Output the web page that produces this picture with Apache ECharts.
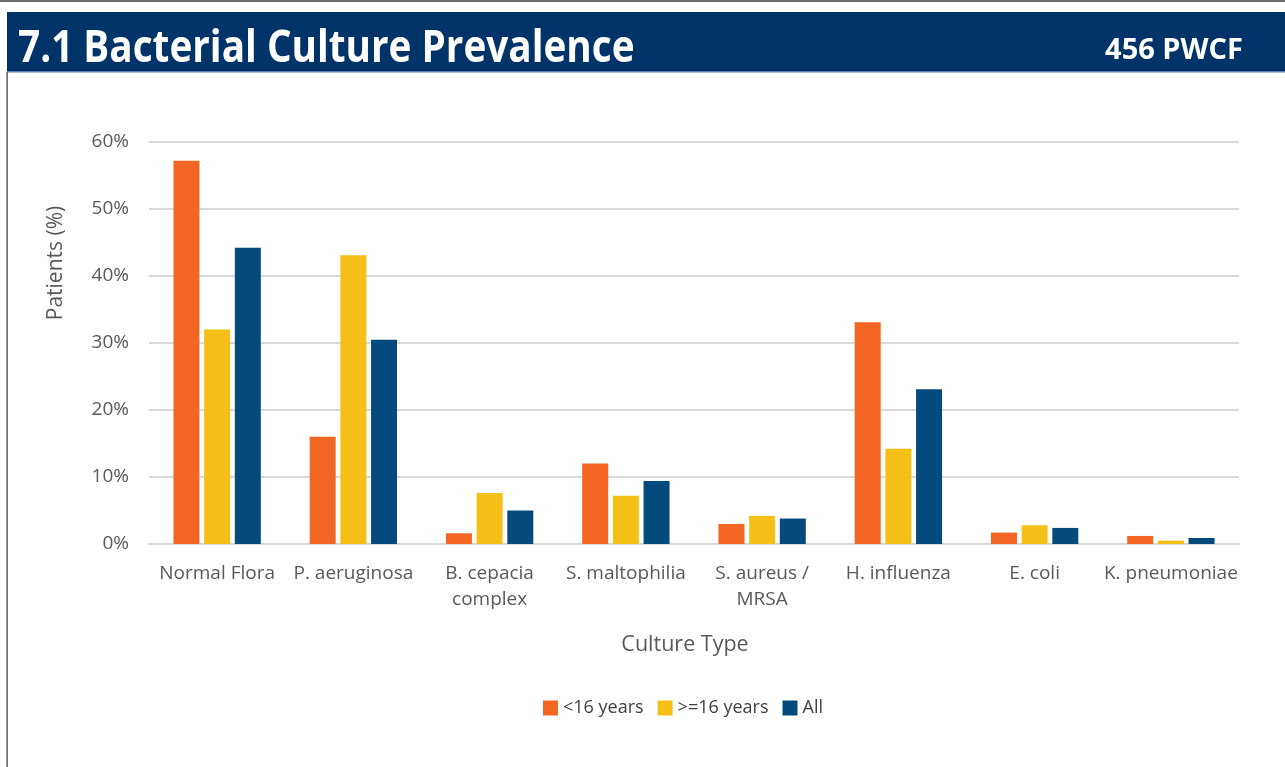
<!DOCTYPE html>
<html>
<head>
<meta charset="utf-8">
<script src="https://cdn.jsdelivr.net/npm/echarts@6/dist/echarts.min.js"></script>
<style>
html,body{margin:0;padding:0;background:#fff;}
#chart{width:1285px;height:767px;}
</style>
</head>
<body>
<div id="chart"></div>
<script>
const categories = ['Normal Flora', 'P. aeruginosa', 'B. cepacia\ncomplex', 'S. maltophilia', 'S. aureus /\nMRSA', 'H. influenza', 'E. coli', 'K. pneumoniae'];
const under16 = [57.2, 16.0, 1.6, 12.0, 3.0, 33.1, 1.7, 1.2];
const over16 = [32.0, 43.1, 7.6, 7.2, 4.2, 14.2, 2.8, 0.5];
const allPatients = [44.2, 30.5, 5.0, 9.4, 3.8, 23.1, 2.4, 0.9];
const seriesNames = ['<16 years', '>=16 years', 'All'];
const yTicks = [0, 10, 20, 30, 40, 50, 60];

const colors = ['#F36523', '#F4C018', '#044A7C'];
const chart = echarts.init(document.getElementById('chart'), null, {renderer: 'canvas'});
const font = '"Open Sans", "Noto Sans", sans-serif';

chart.setOption({
  animation: false,
  color: colors,
  grid: {left: 149, right: 46, top: 142, bottom: 223},
  legend: {
    data: seriesNames,
    top: 694,
    left: 538,
    itemWidth: 15, itemHeight: 15, itemGap: 14,
    icon: 'rect',
    textStyle: {fontFamily: font, fontSize: 18, color: '#404040'}
  },
  graphic: [
    {type: 'rect', shape: {x: 0, y: 0, width: 1285, height: 2}, style: {fill: '#6b6b6b'}},
    {type: 'rect', shape: {x: 7, y: 12, width: 1278, height: 60}, style: {fill: '#003468'}},
    {type: 'rect', shape: {x: 7, y: 71, width: 1278, height: 1.5}, style: {fill: '#5b7fae'}},
    {type: 'rect', shape: {x: 6.5, y: 72, width: 1.2, height: 695}, style: {fill: '#333'}},
    {type: 'text', x: 18, y: 49, scaleX: 0.86,
      style: {text: '7.1 Bacterial Culture Prevalence', fill: '#fff', font: 'bold 45px ' + font, textAlign: 'left', textVerticalAlign: 'middle'}},
    {type: 'text', x: 1243, y: 51,
      style: {text: '456 PWCF', fill: '#fff', font: 'bold 29px ' + font, textAlign: 'right', textVerticalAlign: 'middle'}},
    {type: 'text', x: 56, y: 263, rotation: Math.PI/2,
      style: {text: 'Patients (%)', fill: '#595959', font: '21px ' + font, textAlign: 'center', textVerticalAlign: 'middle'}},
    {type: 'text', x: 685, y: 645,
      style: {text: 'Culture Type', fill: '#595959', font: '21.5px ' + font, textAlign: 'center', textVerticalAlign: 'middle'}}
  ],
  xAxis: {
    type: 'category',
    data: categories,
    axisLine: {show: true, lineStyle: {color: '#D9D9D9', width: 2}},
    axisTick: {show: false},
    axisLabel: {fontFamily: font, fontSize: 19, color: '#595959', margin: 17, lineHeight: 26, interval: 0}
  },
  yAxis: {
    type: 'value',
    min: yTicks[0], max: yTicks[yTicks.length-1], interval: 10,
    axisLine: {show: false},
    axisTick: {show: false},
    axisLabel: {fontFamily: font, fontSize: 19, color: '#595959', margin: 20, formatter: '{value}%'},
    splitLine: {lineStyle: {color: '#D9D9D9', width: 2}}
  },
  series: [
    {name: seriesNames[0], type: 'bar', data: under16, barWidth: 26, barGap: '18%', barCategoryGap: '36%'},
    {name: seriesNames[1], type: 'bar', data: over16, barWidth: 26, barGap: '18%'},
    {name: seriesNames[2], type: 'bar', data: allPatients, barWidth: 26, barGap: '18%'}
  ]
});
</script>
</body>
</html>
